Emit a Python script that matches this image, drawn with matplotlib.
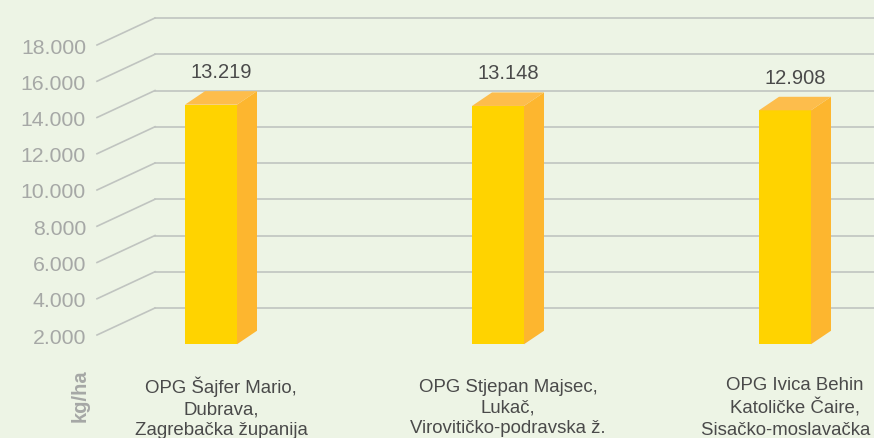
import matplotlib
matplotlib.use("Agg")
import matplotlib.pyplot as plt
from matplotlib.patches import Polygon, Rectangle

# ---- data ----
categories = [
    "OPG Šajfer Mario,\nDubrava,\nZagrebačka županija",
    "OPG Stjepan Majsec,\nLukač,\nVirovitičko-podravska ž.",
    "OPG Ivica Behin\nKatoličke Čaire,\nSisačko-moslavačka ž.",
]
values = [13219, 13148, 12908]
value_labels = ["13.219", "13.148", "12.908"]
tick_values = [2000, 4000, 6000, 8000, 10000, 12000, 14000, 16000, 18000]
tick_labels = ["2.000", "4.000", "6.000", "8.000", "10.000", "12.000", "14.000", "16.000", "18.000"]
unit_label = "kg/ha"

# ---- style / geometry ----
W, H = 874, 438
BG = "#EDF4E5"
FRONT = "#FFD300"
SIDE = "#FDB62F"
TOP = "#FDBD4C"
GRID = "#C0C4C0"
TICK_C = "#A6A8A6"
TEXT_C = "#4A4A4A"

px_per_unit_y = 36.25 / 2000.0      # pixels per value unit
y_top_px = 18                         # pixel row of 18000 gridline
x0_px, x_step_px = 211, 287           # category 0 center, spacing

def ypx2v(dpx):
    return dpx / px_per_unit_y

ylim_top = 18000 + ypx2v(y_top_px)
ylim_bot = 18000 - ypx2v(H - y_top_px)
xlim_l = -x0_px / x_step_px
xlim_r = (W - x0_px) / x_step_px

bar_w = 52 / x_step_px
dx = 20 / x_step_px
dy = ypx2v(13.5)
wall_dx = -58 / x_step_px
wall_dy = -ypx2v(27)
wall_x = (155 - x0_px) / x_step_px

fig = plt.figure(figsize=(W / 100, H / 100), dpi=100)
fig.patch.set_facecolor(BG)
ax = fig.add_axes([0, 0, 1, 1])
ax.set_facecolor(BG)
ax.set_xlim(xlim_l, xlim_r)
ax.set_ylim(ylim_bot, ylim_top)
ax.axis("off")

font = ["Liberation Sans", "DejaVu Sans"]

# gridlines (back wall + slanted side wall)
for tv, tl in zip(tick_values, tick_labels):
    ax.plot([wall_x, xlim_r + 1], [tv, tv], color=GRID, lw=1.2, zorder=1)
    ax.plot([wall_x, wall_x + wall_dx], [tv, tv + wall_dy], color=GRID, lw=1.2, zorder=1)
    ax.text(wall_x + wall_dx - 11 / x_step_px, tv + wall_dy - ypx2v(3), tl,
            ha="right", va="center", fontsize=15.3, color=TICK_C, family=font)

# bars
for i, v in enumerate(values):
    l = i - bar_w / 2
    r = i + bar_w / 2
    ax.add_patch(Rectangle((l, 0), bar_w, v, facecolor=FRONT, edgecolor="none", zorder=3))
    ax.add_patch(Polygon([(r, 0), (r + dx, dy), (r + dx, v + dy), (r, v)],
                         closed=True, facecolor=SIDE, edgecolor="none", zorder=3))
    ax.add_patch(Polygon([(l, v), (r, v), (r + dx, v + dy), (l + dx, v + dy)],
                         closed=True, facecolor=TOP, edgecolor="none", zorder=3))
    ax.text(i + dx / 2, v + ypx2v(32), value_labels[i], ha="center", va="center",
            fontsize=14.5, color=TEXT_C, family=font, zorder=4)

# category labels
for i, c in enumerate(categories):
    ax.text(i + dx / 2, 18000 - ypx2v(408 - y_top_px), c, ha="center", va="center",
            fontsize=13.4, color=TEXT_C, family=font, linespacing=1.3)

# axis unit label
ax.text((80 - x0_px) / x_step_px, 18000 - ypx2v(396 - y_top_px), unit_label,
        rotation=90, ha="center", va="center", fontsize=14.5, fontweight="bold",
        color=TICK_C, family=font)

fig.savefig("out.png", dpi=100, facecolor=BG)
